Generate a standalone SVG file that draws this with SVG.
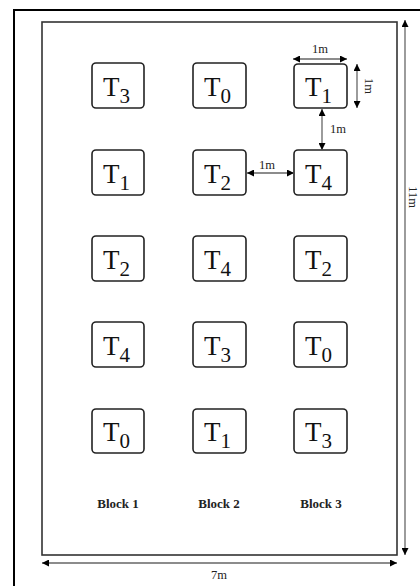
<svg xmlns="http://www.w3.org/2000/svg" width="420" height="586" viewBox="0 0 420 586">
<style>
.frame{fill:none;stroke:#000;stroke-width:2}
.plot{fill:none;stroke:#333;stroke-width:1.6}
.box{fill:#fff;stroke:#222;stroke-width:1.6}
.t{font-family:"Liberation Serif",serif;font-size:27px;fill:#111}
.sub{font-size:21px}
.dim{stroke:#666;stroke-width:1.3;fill:none;marker-start:url(#ah);marker-end:url(#ah)}
.dl{font-family:"Liberation Serif",serif;font-size:12.5px;fill:#222;text-anchor:middle}
.bl{font-family:"Liberation Serif",serif;font-size:13px;font-weight:bold;fill:#222;text-anchor:middle}
</style>
<defs>
<marker id="ah" viewBox="0 0 10 10" refX="10" refY="5" markerWidth="7" markerHeight="7" markerUnits="userSpaceOnUse" orient="auto-start-reverse">
<path d="M0,0 L10,5 L0,10 z" fill="#000"/>
</marker>
</defs>
<rect x="0" y="0" width="420" height="586" fill="#fff"/>
<path class="frame" d="M14,586 V10 H420"/>
<rect class="plot" x="42" y="22" width="355" height="533"/>

<g id="nodes">
<g id="b1r1"><rect class="box" x="92" y="63" width="52" height="45" rx="4"/><text class="t" x="103" y="96">T<tspan class="sub" dy="7">3</tspan></text></g>
<g id="b2r1"><rect class="box" x="193" y="63" width="53" height="45" rx="4"/><text class="t" x="204" y="96">T<tspan class="sub" dy="7">0</tspan></text></g>
<g id="b3r1"><rect class="box" x="294" y="64" width="53" height="44" rx="4"/><text class="t" x="305" y="96">T<tspan class="sub" dy="7">1</tspan></text></g>

<g id="b1r2"><rect class="box" x="92" y="150" width="52" height="45" rx="4"/><text class="t" x="103" y="183">T<tspan class="sub" dy="7">1</tspan></text></g>
<g id="b2r2"><rect class="box" x="193" y="150" width="53" height="45" rx="4"/><text class="t" x="204" y="183">T<tspan class="sub" dy="7">2</tspan></text></g>
<g id="b3r2"><rect class="box" x="294" y="150" width="53" height="45" rx="4"/><text class="t" x="305" y="183">T<tspan class="sub" dy="7">4</tspan></text></g>

<g id="b1r3"><rect class="box" x="92" y="236" width="52" height="45" rx="4"/><text class="t" x="103" y="269">T<tspan class="sub" dy="7">2</tspan></text></g>
<g id="b2r3"><rect class="box" x="193" y="236" width="53" height="45" rx="4"/><text class="t" x="204" y="269">T<tspan class="sub" dy="7">4</tspan></text></g>
<g id="b3r3"><rect class="box" x="294" y="236" width="53" height="45" rx="4"/><text class="t" x="305" y="269">T<tspan class="sub" dy="7">2</tspan></text></g>

<g id="b1r4"><rect class="box" x="92" y="322" width="52" height="45" rx="4"/><text class="t" x="103" y="355">T<tspan class="sub" dy="7">4</tspan></text></g>
<g id="b2r4"><rect class="box" x="193" y="322" width="53" height="45" rx="4"/><text class="t" x="204" y="355">T<tspan class="sub" dy="7">3</tspan></text></g>
<g id="b3r4"><rect class="box" x="294" y="322" width="53" height="45" rx="4"/><text class="t" x="305" y="355">T<tspan class="sub" dy="7">0</tspan></text></g>

<g id="b1r5"><rect class="box" x="92" y="409" width="52" height="44" rx="4"/><text class="t" x="103" y="441">T<tspan class="sub" dy="7">0</tspan></text></g>
<g id="b2r5"><rect class="box" x="193" y="409" width="53" height="44" rx="4"/><text class="t" x="204" y="441">T<tspan class="sub" dy="7">1</tspan></text></g>
<g id="b3r5"><rect class="box" x="294" y="409" width="53" height="44" rx="4"/><text class="t" x="305" y="441">T<tspan class="sub" dy="7">3</tspan></text></g>
</g>

<g id="connectors">
<line class="dim" x1="293" y1="59" x2="347" y2="59"/>
<line class="dim" x1="357" y1="64" x2="357" y2="108"/>
<line class="dim" x1="322" y1="109" x2="322" y2="150"/>
<line class="dim" x1="247" y1="173" x2="294" y2="173"/>
<line class="dim" x1="42" y1="563" x2="397" y2="563"/>
<line class="dim" x1="405" y1="20" x2="405" y2="555"/>
</g>

<g id="labels">
<text class="dl" x="320" y="53">1m</text>
<text class="dl" transform="translate(365,86) rotate(90)">1m</text>
<text class="dl" x="338" y="133">1m</text>
<text class="dl" x="267" y="169">1m</text>
<text class="dl" x="219" y="579">7m</text>
<text class="dl" transform="translate(409,197) rotate(90)">11m</text>
<text class="bl" x="118" y="508">Block 1</text>
<text class="bl" x="219" y="508">Block 2</text>
<text class="bl" x="321" y="508">Block 3</text>
</g>
</svg>
